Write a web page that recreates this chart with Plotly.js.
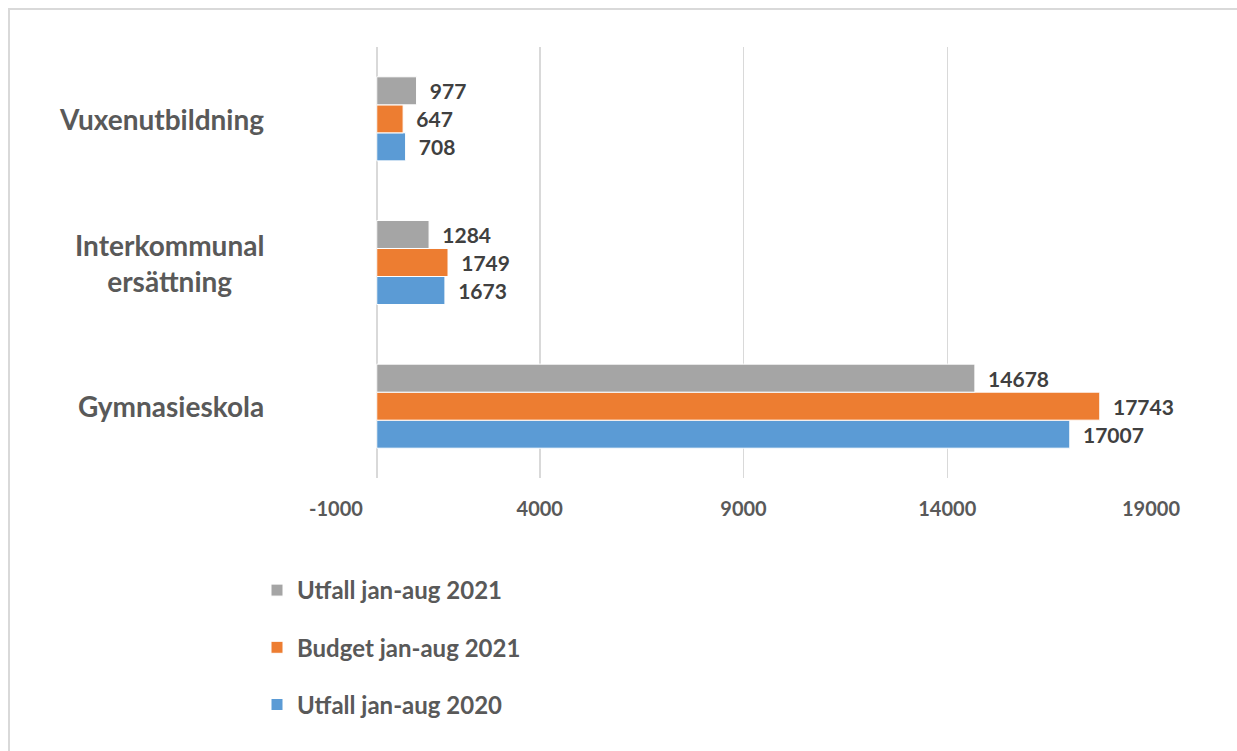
<!DOCTYPE html>
<html>
<head>
<meta charset="utf-8">
<script src="https://cdn.plot.ly/plotly-3.0.1.min.js"></script>
<style>
  html, body { margin: 0; padding: 0; background: #ffffff; }
  #chart { width: 1237px; height: 751px; }
</style>
</head>
<body>
<div id="chart"></div>
<script>
var categories = ['Gymnasieskola', 'Interkommunal<br>ersättning', 'Vuxenutbildning'];
var seriesNames = ['Utfall jan-aug 2020', 'Budget jan-aug 2021', 'Utfall jan-aug 2021'];
var utfall2020 = [17007, 1673, 708];
var budget2021 = [17743, 1749, 647];
var utfall2021 = [14678, 1284, 977];
var xTickValues = [-1000, 4000, 9000, 14000, 19000];

var colors = ['#5b9bd5', '#ed7d31', '#a5a5a5'];
var seriesValues = [utfall2020, budget2021, utfall2021];
var FONT = 'Lato, "Open Sans", sans-serif';

var traces = seriesValues.map(function (vals, i) {
  return {
    type: 'bar',
    orientation: 'h',
    name: seriesNames[i],
    legendgroup: 'g' + i,
    legendrank: 3 - i,
    y: categories,
    x: vals,
    marker: { color: colors[i], line: { color: '#ffffff', width: 1 } },
    texttemplate: '\u00a0\u00a0%{x:d}',
    textposition: 'outside',
    constraintext: 'none',
    cliponaxis: false,
    textfont: { family: FONT, size: 21, color: '#404040', weight: 'bold' },
    hoverinfo: 'x+name'
  };
});

var categoryAnnotations = categories.map(function (c) {
  return {
    xref: 'paper', yref: 'y',
    x: (266 - 336) / 815, y: c,
    xanchor: 'right', yanchor: 'middle',
    align: 'center',
    text: c,
    showarrow: false,
    font: { family: FONT, size: 28, color: '#595959', weight: 'bold' }
  };
});

var layout = {
  width: 1237,
  height: 751,
  paper_bgcolor: '#ffffff',
  plot_bgcolor: '#ffffff',
  margin: { l: 336, r: 86, t: 47, b: 273, autoexpand: false },
  barmode: 'group',
  bargap: 0.415,
  bargroupgap: 0,
  font: { family: FONT, color: '#595959' },
  xaxis: {
    range: [-1000, 19000],
    tickvals: xTickValues,
    ticktext: xTickValues.map(String),
    showgrid: true,
    gridcolor: '#d9d9d9',
    gridwidth: 1.5,
    zeroline: true,
    zerolinecolor: '#d9d9d9',
    zerolinewidth: 1.5,
    showline: false,
    ticks: '',
    automargin: false,
    tickfont: { family: FONT, size: 20, color: '#595959', weight: 'bold' },
    ticklabelstandoff: 17
  },
  yaxis: {
    type: 'category',
    showgrid: false,
    zeroline: false,
    showline: false,
    ticks: '',
    automargin: false,
    showticklabels: false
  },
  annotations: categoryAnnotations,
  showlegend: true,
  legend: {
    xref: 'container',
    yref: 'container',
    x: 257 / 1237,
    y: 1 - 568 / 751,
    xanchor: 'left',
    yanchor: 'top',
    traceorder: 'grouped',
    tracegroupgap: 23,
    font: { family: FONT, size: 24, color: '#595959', weight: 'bold' },
    bgcolor: 'rgba(0,0,0,0)'
  },
  shapes: [{
    type: 'rect',
    xref: 'paper', yref: 'paper',
    x0: (9 - 336) / 815, x1: (1260 - 336) / 815,
    y0: (478 - 780) / 431, y1: (478 - 9) / 431,
    line: { color: '#d9d9d9', width: 2 },
    fillcolor: 'rgba(0,0,0,0)',
    layer: 'below'
  }]
};

Plotly.newPlot('chart', traces, layout, { displayModeBar: false, staticPlot: true });
</script>
</body>
</html>
